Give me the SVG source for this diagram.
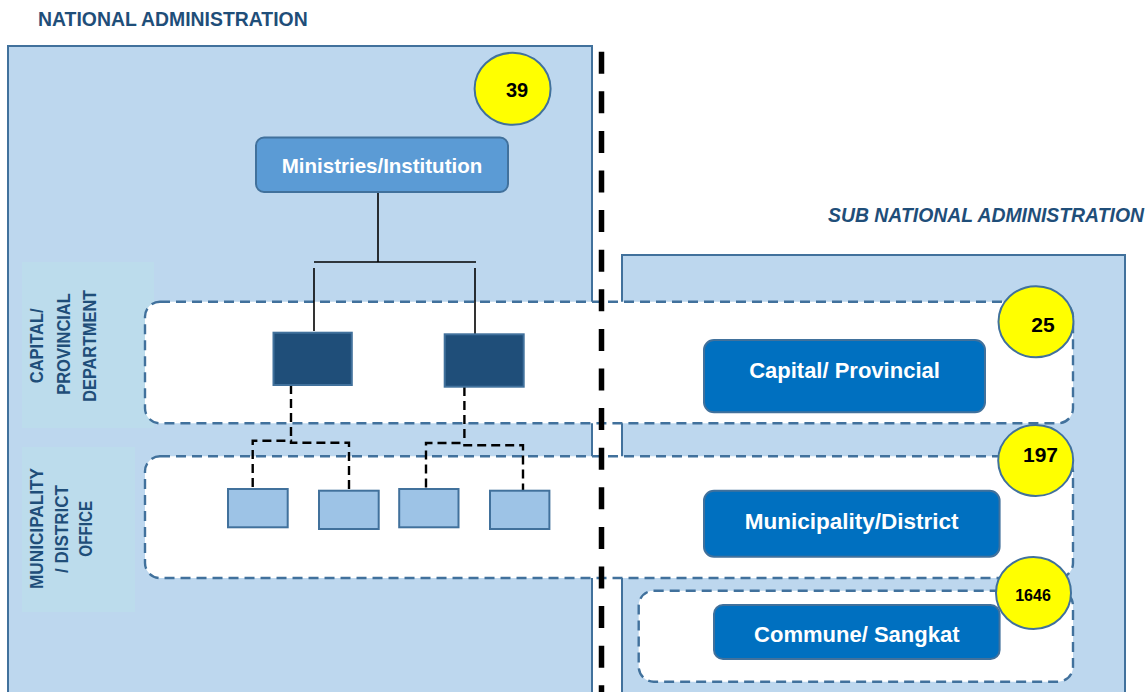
<svg xmlns="http://www.w3.org/2000/svg" width="1148" height="692" viewBox="0 0 1148 692">
  <style>
    text { font-family: "Liberation Sans", Arial, sans-serif; font-weight: bold; }
    .heading { font-size: 19.4px; fill: #1f4e79; }
    .side { font-size: 18px; fill: #1f4e79; text-anchor: middle; }
    .panel { fill: #bdd7ee; stroke: #41719c; stroke-width: 2; }
    .sidebg { fill: #bcdcec; }
    .band { fill: #ffffff; stroke: #41719c; stroke-width: 2.4; stroke-dasharray: 10 6; }
    .ministry { fill: #5b9bd5; stroke: #41719c; stroke-width: 2; }
    .dept { fill: #1f4e79; stroke: #41719c; stroke-width: 2; }
    .office { fill: #9dc3e6; stroke: #41719c; stroke-width: 2; }
    .level { fill: #0070c0; stroke: #41719c; stroke-width: 2; }
    .label { fill: #ffffff; text-anchor: middle; }
    .badge { fill: #ffff00; stroke: #41719c; stroke-width: 2; }
    .count { fill: #000000; text-anchor: middle; }
    .solid { fill: none; stroke: #000000; stroke-width: 1.6; }
    .dashed { fill: none; stroke: #000000; stroke-width: 2.4; stroke-dasharray: 9 5; }
  </style>

  <rect width="1148" height="692" fill="#ffffff"/>

  <!-- section headings -->
  <text class="heading" x="38" y="26">NATIONAL ADMINISTRATION</text>
  <text class="heading" x="828" y="222" font-style="italic">SUB NATIONAL ADMINISTRATION</text>

  <!-- administration panels -->
  <rect id="national-panel" class="panel" x="8" y="46" width="584" height="660"/>
  <rect id="subnational-panel" class="panel" x="622" y="255" width="503" height="450"/>

  <!-- row captions -->
  <g id="caption-department">
    <rect class="sidebg" x="22" y="262" width="132" height="166"/>
    <g transform="rotate(-90)">
      <text class="side" x="-345.8" y="43" textLength="75" lengthAdjust="spacingAndGlyphs">CAPITAL/</text>
      <text class="side" x="-344" y="69.5" textLength="101.7" lengthAdjust="spacingAndGlyphs">PROVINCIAL</text>
      <text class="side" x="-345.8" y="96" textLength="111.7" lengthAdjust="spacingAndGlyphs">DEPARTMENT</text>
    </g>
  </g>
  <g id="caption-office">
    <rect class="sidebg" x="22" y="447" width="113" height="165"/>
    <g transform="rotate(-90)">
      <text class="side" x="-528.5" y="42.7" textLength="121" lengthAdjust="spacingAndGlyphs">MUNICIPALITY</text>
      <text class="side" x="-529" y="68" textLength="88" lengthAdjust="spacingAndGlyphs">/ DISTRICT</text>
      <text class="side" x="-528.7" y="91.7" textLength="56" lengthAdjust="spacingAndGlyphs">OFFICE</text>
    </g>
  </g>

  <!-- level bands -->
  <rect id="band-provincial" class="band" x="145" y="301.7" width="928" height="121.6" rx="15"/>
  <rect id="band-district" class="band" x="145" y="456.3" width="928" height="121.7" rx="15"/>
  <rect id="band-commune" class="band" x="638.7" y="590.7" width="434.3" height="91" rx="15"/>

  <!-- connectors -->
  <g id="connectors">
    <path class="solid" d="M378 192 V262"/>
    <path class="solid" d="M314 262 H476" stroke-width="2.2"/>
    <path class="solid" d="M314 268 V331"/>
    <path class="solid" d="M475 268 V334"/>
    <path class="dashed" d="M291 385 V440.7"/>
    <path class="dashed" d="M252.7 487 V440.7 H291 V442.7 H349 V489.5"/>
    <path class="dashed" d="M464.4 387 V443"/>
    <path class="dashed" d="M426 487.5 V443 H464.4 V445.3 H523 V490"/>
  </g>

  <!-- national nodes -->
  <g id="ministries">
    <rect class="ministry" x="256" y="137.5" width="252" height="54.5" rx="8"/>
    <text class="label" x="382" y="173.3" font-size="20.5">Ministries/Institution</text>
  </g>
  <g id="department-1"><rect class="dept" x="273.5" y="332.7" width="78.3" height="52.3"/></g>
  <g id="department-2"><rect class="dept" x="444.7" y="334.3" width="79" height="52.4"/></g>
  <g id="office-1"><rect class="office" x="228" y="489" width="59.7" height="38.3"/></g>
  <g id="office-2"><rect class="office" x="319" y="490.7" width="59.7" height="38.3"/></g>
  <g id="office-3"><rect class="office" x="399.2" y="489" width="59.3" height="38.3"/></g>
  <g id="office-4"><rect class="office" x="490" y="490.7" width="59.4" height="38.3"/></g>

  <!-- sub national nodes -->
  <g id="capital-provincial">
    <rect class="level" x="704" y="340" width="281" height="72.3" rx="10"/>
    <text class="label" x="844.5" y="377.7" font-size="22">Capital/ Provincial</text>
  </g>
  <g id="municipality-district">
    <rect class="level" x="704" y="490.7" width="295.6" height="66" rx="10"/>
    <text class="label" x="851.7" y="529.3" font-size="22.5">Municipality/District</text>
  </g>
  <g id="commune-sangkat">
    <rect class="level" x="714" y="605" width="285.6" height="54" rx="9"/>
    <text class="label" x="856.8" y="641.7" font-size="22">Commune/ Sangkat</text>
  </g>

  <!-- unit counts -->
  <g id="count-39">
    <ellipse class="badge" cx="512.6" cy="88.8" rx="38" ry="36"/>
    <text class="count" x="517" y="96.5" font-size="20">39</text>
  </g>
  <g id="count-25">
    <ellipse class="badge" cx="1036" cy="321.7" rx="37.5" ry="35.5"/>
    <text class="count" x="1043" y="331.5" font-size="21">25</text>
  </g>
  <g id="count-197">
    <ellipse class="badge" cx="1035.7" cy="460.5" rx="37.5" ry="35.5"/>
    <text class="count" x="1040.5" y="461.5" font-size="21">197</text>
  </g>
  <g id="count-1646">
    <ellipse class="badge" cx="1033.5" cy="593" rx="37.5" ry="36"/>
    <text class="count" x="1033" y="600.5" font-size="16">1646</text>
  </g>

  <!-- national / sub national divide -->
  <line id="divide" x1="601.5" y1="51.7" x2="601.5" y2="692" stroke="#000000" stroke-width="5.5" stroke-dasharray="22 17.6"/>
</svg>
